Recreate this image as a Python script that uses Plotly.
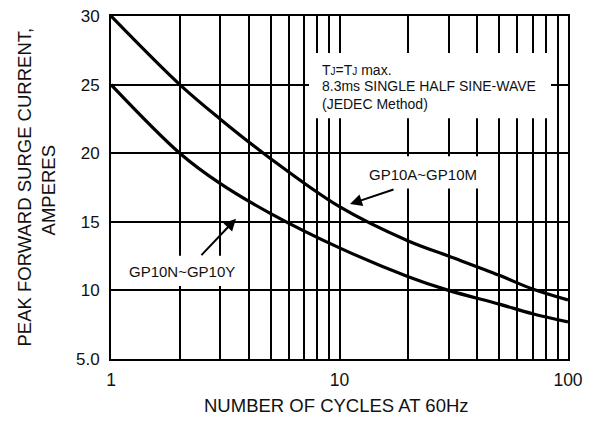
import plotly.graph_objects as go

# ---- data ----
cycles = [1, 2, 3, 5, 10, 20, 30, 50, 70, 100]
gp10a_m = [30.0, 25.0, 22.5, 19.6, 16.1, 13.6, 12.5, 11.1, 10.1, 9.3]
gp10n_y = [25.0, 20.0, 17.8, 15.6, 13.1, 11.0, 10.0, 9.0, 8.3, 7.7]

x_grid = [1, 2, 3, 4, 5, 6, 7, 8, 9, 10, 20, 30, 40, 50, 60, 70, 80, 90, 100]
x_ticktext = ["1", "", "", "", "", "", "", "", "", "10", "", "", "", "", "", "", "", "", "100"]
y_ticks = [5, 10, 15, 20, 25, 30]
y_ticktext = ["5.0", "10", "15", "20", "25", "30"]

FONT = "Liberation Sans, Arial, sans-serif"
INK = "#111111"

fig = go.Figure()
fig.add_trace(go.Scatter(x=cycles, y=gp10a_m, mode="lines", line=dict(color="black", width=3.2, shape="spline"),
                         name="GP10A~GP10M", showlegend=False))
fig.add_trace(go.Scatter(x=cycles, y=gp10n_y, mode="lines", line=dict(color="black", width=3.2, shape="spline"),
                         name="GP10N~GP10Y", showlegend=False))

L, R, T, B = 111, 568, 7, 359
W, H = 595, 421
pw, ph = R - L, B - T

def px(xp):
    return (xp - L) / pw

def py(yp):
    return (B - yp) / ph

shapes = [
    dict(type="rect", xref="paper", yref="paper", x0=px(309), x1=px(551), y0=py(112), y1=py(45),
         fillcolor="white", line=dict(width=0), layer="above"),
    dict(type="rect", xref="paper", yref="paper", x0=px(346), x1=px(490), y0=py(184), y1=py(151),
         fillcolor="white", line=dict(width=0), layer="above"),
    dict(type="rect", xref="paper", yref="paper", x0=px(121), x1=px(242), y0=py(284), y1=py(253),
         fillcolor="white", line=dict(width=0), layer="above"),
]

annotations = [
    dict(xref="paper", yref="paper", x=px(320), y=py(62), xanchor="left", yanchor="middle", showarrow=False,
         text="T<span style='font-size:10px'>J</span>=T<span style='font-size:10px'>J</span> max.",
         font=dict(family=FONT, size=14, color=INK)),
    dict(xref="paper", yref="paper", x=px(320), y=py(79), xanchor="left", yanchor="middle", showarrow=False,
         text="8.3ms SINGLE HALF SINE-WAVE", font=dict(family=FONT, size=14, color=INK)),
    dict(xref="paper", yref="paper", x=px(320), y=py(97), xanchor="left", yanchor="middle", showarrow=False,
         text="(JEDEC Method)", font=dict(family=FONT, size=14, color=INK)),
    dict(xref="paper", yref="paper", x=px(423), y=py(170), xanchor="center", yanchor="middle", showarrow=False,
         text="GP10A~GP10M", font=dict(family=FONT, size=15, color=INK)),
    dict(xref="paper", yref="paper", x=px(182), y=py(269), xanchor="center", yanchor="middle", showarrow=False,
         text="GP10N~GP10Y", font=dict(family=FONT, size=15, color=INK)),
    # arrows
    dict(xref="paper", yref="paper", x=px(350), y=py(200), ax=45, ay=-15, text="", showarrow=True,
         arrowhead=2, arrowsize=1.2, arrowwidth=2, arrowcolor="black"),
    dict(xref="paper", yref="paper", x=px(236), y=py(215), ax=-36, ay=38, text="", showarrow=True,
         arrowhead=2, arrowsize=1.2, arrowwidth=2, arrowcolor="black"),
    # axis titles
    dict(xref="paper", yref="paper", x=px(336), y=py(407), xanchor="center", yanchor="middle", showarrow=False,
         text="NUMBER OF CYCLES AT 60Hz", font=dict(family=FONT, size=18.5, color=INK)),
    dict(xref="paper", yref="paper", x=px(24), y=py(183), xanchor="center", yanchor="middle", showarrow=False,
         textangle=-90, text="PEAK FORWARD SURGE CURRENT,", font=dict(family=FONT, size=18.5, color=INK)),
    dict(xref="paper", yref="paper", x=px(48), y=py(186), xanchor="center", yanchor="middle", showarrow=False,
         textangle=-90, text="AMPERES", font=dict(family=FONT, size=18.5, color=INK)),
]

fig.update_layout(
    width=W, height=H,
    margin=dict(l=L, r=W - R, t=T, b=H - B),
    paper_bgcolor="white", plot_bgcolor="white",
    shapes=shapes, annotations=annotations,
    font=dict(family=FONT, color=INK),
    showlegend=False,
)
fig.update_xaxes(type="log", range=[0, 2], tickvals=x_grid, ticktext=x_ticktext,
                 showgrid=True, gridcolor="black", gridwidth=2,
                 showline=True, linecolor="black", linewidth=2, mirror=True,
                 ticks="", ticklabelstandoff=4, ticklabeloverflow="allow",
                 tickfont=dict(family=FONT, size=17.5, color=INK), zeroline=False)
fig.update_yaxes(range=[5, 30], tickvals=y_ticks, ticktext=y_ticktext,
                 showgrid=True, gridcolor="black", gridwidth=2,
                 showline=True, linecolor="black", linewidth=2, mirror=True,
                 ticks="", ticklabelstandoff=6, ticklabeloverflow="allow",
                 tickfont=dict(family=FONT, size=17, color=INK), zeroline=False)

fig.write_html("out.html", config={"displayModeBar": False},
               post_script="document.body.style.margin='0';document.body.style.overflow='hidden';")
